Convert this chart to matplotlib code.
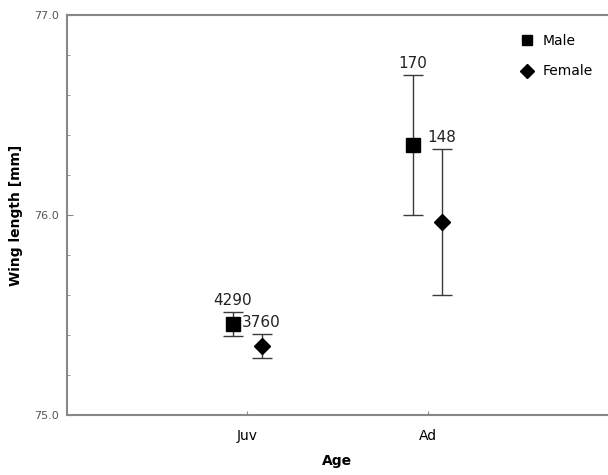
import matplotlib.pyplot as plt
from matplotlib.lines import Line2D
from matplotlib.ticker import MultipleLocator

ages = ["Juv", "Ad"]
male_mean = [75.455, 76.35]
male_err = [0.06, 0.35]
male_n = ["4290", "170"]
female_mean = [75.345, 75.965]
female_err = [0.06, 0.365]
female_n = ["3760", "148"]

fig = plt.figure(figsize=(6.08, 4.75), dpi=100)
ax = fig.add_axes([0.110, 0.126, 0.89, 0.842])

pos = [1, 2]
off = 0.08
xm = [p - off for p in pos]
xf = [p + off for p in pos]

ecol = "#3a3a3a"
ax.errorbar(xm, male_mean, yerr=male_err, fmt="s", color="black", ms=10,
            ecolor=ecol, elinewidth=1, capsize=7, capthick=1)
ax.errorbar(xf, female_mean, yerr=female_err, fmt="D", color="black", ms=8.5,
            ecolor=ecol, elinewidth=1, capsize=7, capthick=1)

for x, m, e, n in zip(xm, male_mean, male_err, male_n):
    ax.annotate(n, (x, m + e), xytext=(0, 3), textcoords="offset points",
                ha="center", va="bottom", fontsize=11, color="#222222")
for x, m, e, n in zip(xf, female_mean, female_err, female_n):
    ax.annotate(n, (x, m + e), xytext=(0, 3), textcoords="offset points",
                ha="center", va="bottom", fontsize=11, color="#222222")

ax.set_xlim(0, 3)
ax.set_ylim(75.0, 77.0)
ax.set_xticks(pos)
ax.set_xticklabels(ages, fontsize=10)
ax.set_yticks([75.0, 76.0, 77.0])
ax.set_yticklabels(["75.0", "76.0", "77.0"], fontsize=8, color="#555555")
ax.yaxis.set_minor_locator(MultipleLocator(0.2))
ax.tick_params(axis="both", which="both", direction="in", color="#888888")
ax.tick_params(axis="y", which="major", length=4, pad=6)
ax.tick_params(axis="y", which="minor", length=2)
ax.tick_params(axis="x", length=3, pad=10)

for side in ["left", "bottom", "top"]:
    ax.spines[side].set_color("#888888")
    ax.spines[side].set_linewidth(1.5)
ax.spines["right"].set_visible(False)

ax.set_xlabel("Age", fontsize=10, fontweight="bold", labelpad=8)
ax.set_ylabel("Wing length [mm]", fontsize=10, fontweight="bold", labelpad=8)

handles = [
    Line2D([], [], marker="s", ls="none", color="black", ms=7, label="Male"),
    Line2D([], [], marker="D", ls="none", color="black", ms=7, label="Female"),
]
ax.legend(handles=handles, loc="upper right", frameon=False, fontsize=10,
          handletextpad=0.6, labelspacing=1.2, handlelength=1.0,
          bbox_to_anchor=(0.995, 0.985))

fig.savefig("out.png", dpi=100)
